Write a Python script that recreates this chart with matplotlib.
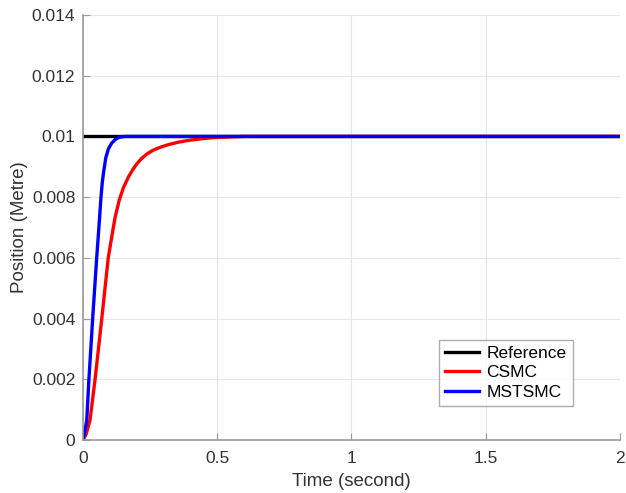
import matplotlib
matplotlib.use("Agg")
import matplotlib.pyplot as plt

plt.rcParams['font.family'] = ['Liberation Sans', 'DejaVu Sans']

ref_t = [0.0, 2.0]
ref_y = [0.01, 0.01]

csmc_t = [0.0, 0.012, 0.026, 0.045, 0.070, 0.094, 0.113, 0.120, 0.135, 0.150, 0.169, 0.185, 0.200,
          0.218, 0.238, 0.260, 0.287, 0.318, 0.350, 0.380, 0.410, 0.450, 0.485, 0.540, 0.600, 2.0]
csmc_y = [0.0, 0.0002, 0.00065, 0.0020, 0.0040, 0.0060, 0.0070, 0.00735, 0.0079, 0.0083, 0.00866, 0.0089, 0.00909,
          0.00927, 0.00942, 0.00954, 0.00964, 0.00973, 0.0098, 0.00985, 0.00989, 0.00993, 0.00996, 0.00998, 0.01, 0.01]

mstsmc_t = [0.0, 0.007, 0.014, 0.022, 0.036, 0.051, 0.060, 0.067, 0.072, 0.078, 0.085, 0.095,
            0.107, 0.120, 0.135, 0.155, 0.200, 2.0]
mstsmc_y = [0.0, 0.0003, 0.00065, 0.0020, 0.0040, 0.0060, 0.0071, 0.0080, 0.0085, 0.0089, 0.0093, 0.0096,
            0.00978, 0.0099, 0.00997, 0.01, 0.01, 0.01]

xticks = [0, 0.5, 1, 1.5, 2]
xtick_labels = ['0', '0.5', '1', '1.5', '2']
yticks = [0, 0.002, 0.004, 0.006, 0.008, 0.01, 0.012, 0.014]
ytick_labels = ['0', '0.002', '0.004', '0.006', '0.008', '0.01', '0.012', '0.014']

fig = plt.figure(figsize=(6.26, 4.93), dpi=100)
ax = fig.add_axes([0.1326, 0.1075, 0.8574, 0.8621])

ax.plot(ref_t, ref_y, color='black', lw=2.4, label='Reference', solid_joinstyle='round')
ax.plot(csmc_t, csmc_y, color='#ff0000', lw=2.4, label='CSMC', solid_joinstyle='round')
ax.plot(mstsmc_t, mstsmc_y, color='#0000ff', lw=2.4, label='MSTSMC', solid_joinstyle='round')

ax.set_xlim(0, 2)
ax.set_ylim(0, 0.014)
ax.set_xticks(xticks)
ax.set_xticklabels(xtick_labels)
ax.set_yticks(yticks)
ax.set_yticklabels(ytick_labels)
ax.grid(True, color='#e6e6e6', lw=0.8)
ax.set_axisbelow(True)
for s in ['top', 'right']:
    ax.spines[s].set_visible(False)
for s in ['left', 'bottom']:
    ax.spines[s].set_color('#9a9a9a')
    ax.spines[s].set_linewidth(1.2)
ax.tick_params(direction='in', length=5, color='#9a9a9a', labelsize=12.5, labelcolor='#333333')
ax.tick_params(axis='x', pad=8)
ax.tick_params(axis='y', pad=5.5)

ax.set_xlabel('Time (second)', fontsize=13.5, color='#333333', labelpad=5)
ax.set_ylabel('Position (Metre)', fontsize=13.5, color='#333333', labelpad=3)

leg = ax.legend(loc='lower right', bbox_to_anchor=(0.912, 0.08), fontsize=12.5, frameon=True,
                fancybox=False, edgecolor='#999999', handlelength=2.0, borderpad=0.35,
                labelspacing=0.25, handletextpad=0.4, borderaxespad=0)
leg.get_frame().set_linewidth(1.0)

fig.savefig('out.png', dpi=100)
